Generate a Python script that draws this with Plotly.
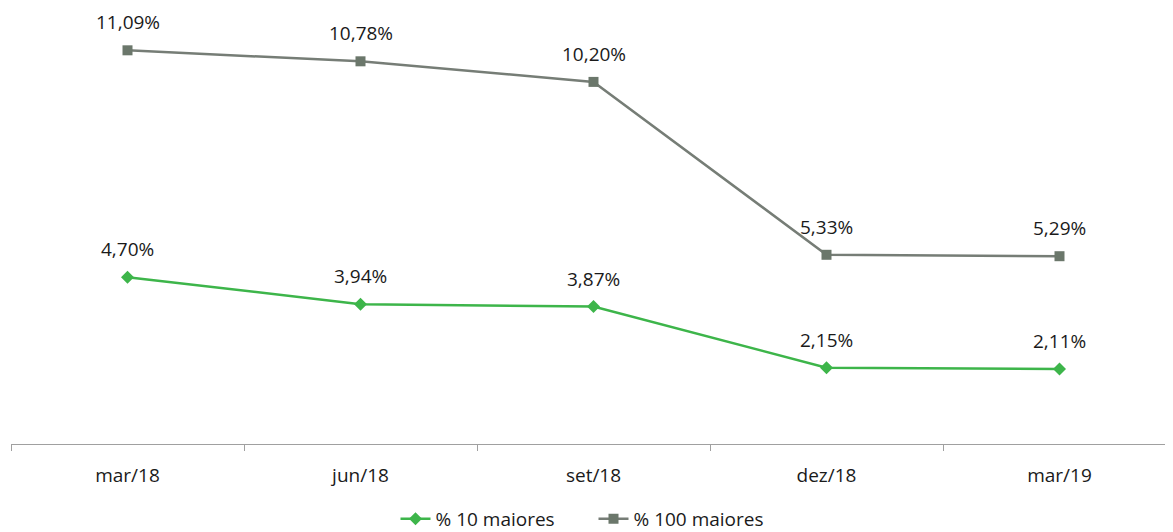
import plotly.graph_objects as go

categories = ["mar/18", "jun/18", "set/18", "dez/18", "mar/19"]
top10 = [4.70, 3.94, 3.87, 2.15, 2.11]
top100 = [11.09, 10.78, 10.20, 5.33, 5.29]

def fmt(v):
    return f"{v:.2f}".replace(".", ",") + "%"

green = "#3DB54A"
gray = "#767D76"
gray_m = "#6B776B"

fig = go.Figure()
fig.add_trace(go.Scatter(
    x=categories, y=top10, name="% 10 maiores", mode="lines+markers",
    line=dict(color=green, width=2.5),
    marker=dict(symbol="diamond", size=10, color=green),
))
fig.add_trace(go.Scatter(
    x=categories, y=top100, name="% 100 maiores", mode="lines+markers",
    line=dict(color=gray, width=2.5),
    marker=dict(symbol="square", size=10, color=gray_m),
))

for series in (top10, top100):
    for c, v in zip(categories, series):
        fig.add_annotation(x=c, y=v, text=fmt(v), showarrow=False,
                           yshift=28, font=dict(size=19, color="#1A1A1A"))

fig.update_layout(
    width=1173, height=532,
    paper_bgcolor="white", plot_bgcolor="white",
    margin=dict(l=3, r=5, t=10, b=95),
    font=dict(family="Open Sans, Lato, sans-serif", size=19, color="#1A1A1A"),
    showlegend=True,
    legend=dict(orientation="h", x=0.5, xanchor="center", y=-0.173, yanchor="middle",
                font=dict(size=19), entrywidth=153),
    xaxis=dict(
        type="category", range=[-0.5, 4.5], showline=True, linecolor="#A0A0A0",
        linewidth=1, ticks="outside", tickson="boundaries", ticklen=6,
        tickcolor="#A0A0A0", showgrid=False, tickfont=dict(size=19),
        ticklabelstandoff=14, fixedrange=True,
    ),
    yaxis=dict(range=[0, 12], visible=False, showgrid=False, zeroline=False),
)

fig.write_html("out.html")
